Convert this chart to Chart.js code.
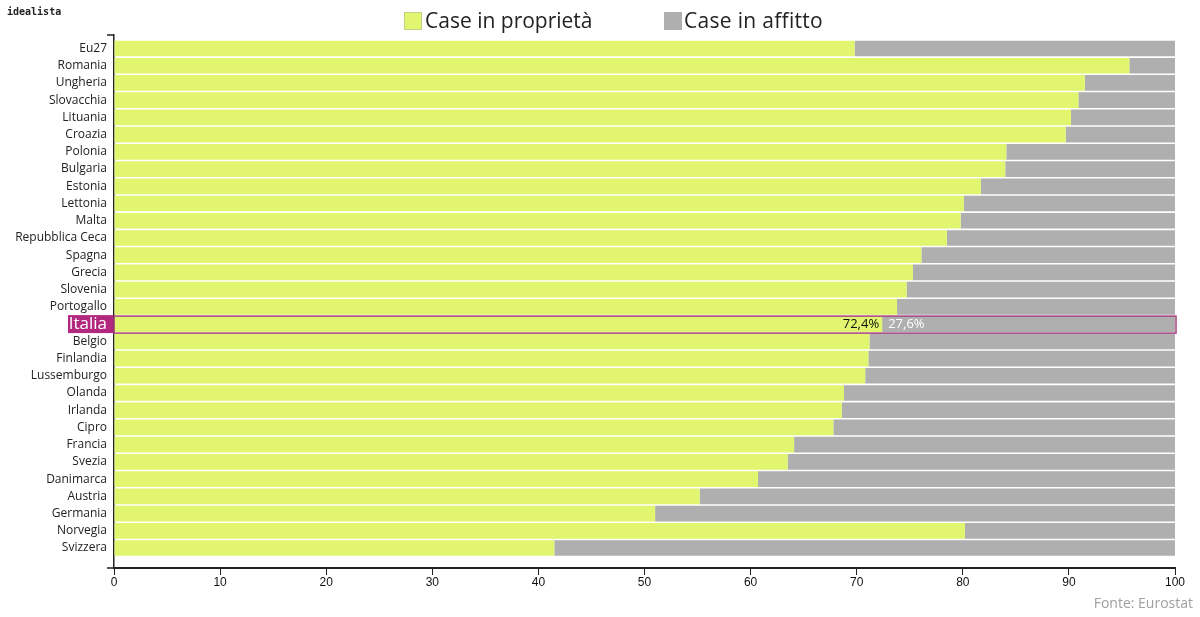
<!DOCTYPE html>
<html>
<head>
<meta charset="utf-8">
<title>Case in proprietà e in affitto</title>
<script src="https://cdn.jsdelivr.net/npm/chart.js@4"></script>
<style>
    html, body { margin: 0; padding: 0; background: #fff; }
    #wrap { width: 1200px; height: 617px; }
</style>
</head>
<body>
<div id="wrap"><canvas id="chart" width="1200" height="617"></canvas></div>
<script>
const countries = ["Eu27", "Romania", "Ungheria", "Slovacchia", "Lituania", "Croazia", "Polonia", "Bulgaria", "Estonia", "Lettonia", "Malta", "Repubblica Ceca", "Spagna", "Grecia", "Slovenia", "Portogallo", "Italia", "Belgio", "Finlandia", "Lussemburgo", "Olanda", "Irlanda", "Cipro", "Francia", "Svezia", "Danimarca", "Austria", "Germania", "Norvegia", "Svizzera"];
const proprieta = [69.8, 95.7, 91.5, 90.9, 90.2, 89.7, 84.1, 84.0, 81.7, 80.1, 79.8, 78.5, 76.1, 75.3, 74.7, 73.8, 72.4, 71.2, 71.1, 70.8, 68.8, 68.6, 67.8, 64.1, 63.5, 60.7, 55.2, 51.0, 80.2, 41.5];
const affitto = [30.2, 4.3, 8.5, 9.1, 9.8, 10.3, 15.9, 16.0, 18.3, 19.9, 20.2, 21.5, 23.9, 24.7, 25.3, 26.2, 27.6, 28.8, 28.9, 29.2, 31.2, 31.4, 32.2, 35.9, 36.5, 39.3, 44.8, 49.0, 19.8, 58.5];
const xTicks = [0, 10, 20, 30, 40, 50, 60, 70, 80, 90, 100];
const seriesNames = ["Case in proprietà", "Case in affitto"];
const highlight = "Italia";
const highlightLabels = ["72,4%", "27,6%"];
const sourceText = "Fonte: Eurostat";
const brandText = "idealista";

const GREEN = "#e1f56e";
const GREY = "#afafaf";
const PURPLE = "#b3287f";
const BASE_FONT = "'Open Sans', sans-serif";

const hlIndex = countries.indexOf(highlight);

// striscia viola sotto l'etichetta Italia (va disegnata prima dei tick)
const labelBackground = {
    id: "labelBackground",
    beforeDraw(chart) {
        const y = chart.scales.y.getPixelForValue(hlIndex);
        const ctx = chart.ctx;
        ctx.save();
        ctx.fillStyle = PURPLE;
        ctx.fillRect(68, y - 9, chart.chartArea.left - 68, 18);
        ctx.restore();
    }
};

// legenda, riquadro Italia, testi e prolungamenti degli assi
const overlay = {
    id: "overlay",
    afterDraw(chart) {
        const ctx = chart.ctx;
        const area = chart.chartArea;
        const x = chart.scales.x;
        const y = chart.scales.y.getPixelForValue(hlIndex);
        ctx.save();

        ctx.strokeStyle = "#a8417f";
        ctx.lineWidth = 1.5;
        ctx.strokeRect(area.left, y - 8, area.width + 1, 17);

        ctx.textBaseline = "middle";
        ctx.font = "13px " + BASE_FONT;
        ctx.fillStyle = "#111";
        ctx.textAlign = "right";
        ctx.fillText(highlightLabels[0], x.getPixelForValue(proprieta[hlIndex]) - 3, y);
        ctx.fillStyle = "#fff";
        ctx.textAlign = "left";
        ctx.fillText(highlightLabels[1], x.getPixelForValue(proprieta[hlIndex]) + 6, y);

        ctx.strokeStyle = "#222";
        ctx.lineWidth = 1.5;
        ctx.beginPath();
        ctx.moveTo(107, area.top);
        ctx.lineTo(area.left, area.top);
        ctx.moveTo(107, area.bottom);
        ctx.lineTo(area.left, area.bottom);
        ctx.stroke();

        // legenda
        ctx.font = "21px " + BASE_FONT;
        ctx.textAlign = "left";
        ctx.fillStyle = GREEN;
        ctx.fillRect(404, 12, 18, 18);
        ctx.strokeStyle = "#c4cf8a";
        ctx.lineWidth = 1;
        ctx.strokeRect(404.5, 12.5, 17, 17);
        ctx.fillStyle = "#222";
        ctx.fillText(seriesNames[0], 425, 22);
        ctx.fillStyle = GREY;
        ctx.fillRect(664, 12, 18, 18);
        ctx.fillStyle = "#222";
        ctx.letterSpacing = "0.3px";
        ctx.fillText(seriesNames[1], 684, 22);
        ctx.letterSpacing = "0px";

        ctx.font = "bold 10px 'DejaVu Sans Mono', monospace";
        ctx.fillStyle = "#222";
        ctx.fillText(brandText, 7, 12);

        ctx.font = "14px " + BASE_FONT;
        ctx.fillStyle = "#a0a0a0";
        ctx.textAlign = "right";
        ctx.fillText(sourceText, 1193, 604);
        ctx.restore();
    }
};

new Chart(document.getElementById("chart"), {
    type: "bar",
    data: {
        datasets: [
            { label: seriesNames[0], data: proprieta.map((v, i) => ({ x: v, y: i })), backgroundColor: GREEN },
            { label: seriesNames[1], data: affitto.map((v, i) => ({ x: v, y: i })), backgroundColor: GREY }
        ]
    },
    options: {
        indexAxis: "y",
        responsive: false,
        animation: false,
        devicePixelRatio: 1,
        barPercentage: 0.91,
        categoryPercentage: 1,
        layout: { padding: { top: 35, left: 0, right: 25, bottom: 0 } },
        plugins: { legend: { display: false }, tooltip: { enabled: false } },
        scales: {
            x: {
                type: "linear",
                stacked: true,
                min: 0,
                max: 100,
                afterFit: scale => { scale.height = 49; },
                border: { color: "#222", width: 2 },
                grid: { drawOnChartArea: false, color: "#222", tickLength: 7 },
                afterBuildTicks: scale => { scale.ticks = xTicks.map(v => ({ value: v })); },
                ticks: { color: "#111", font: { family: "'Liberation Sans', Arial, sans-serif", size: 12 }, maxRotation: 0, padding: 0 }
            },
            y: {
                type: "linear",
                stacked: true,
                reverse: true,
                offset: false,
                min: -0.784,
                max: 30.16,
                afterFit: scale => { scale.width = 114; },
                afterBuildTicks: scale => { scale.ticks = countries.map((c, i) => ({ value: i })); },
                border: { color: "#222", width: 1.5 },
                grid: { display: false, drawTicks: false, offset: false },
                ticks: {
                    autoSkip: false,
                    padding: 7,
                    callback: v => countries[v],
                    color: c => c.index === hlIndex ? "#fff" : "#222",
                    font: c => ({ family: BASE_FONT, size: c.index === hlIndex ? 17 : 12 })
                }
            }
        }
    },
    plugins: [labelBackground, overlay]
});
</script>
</body>
</html>
